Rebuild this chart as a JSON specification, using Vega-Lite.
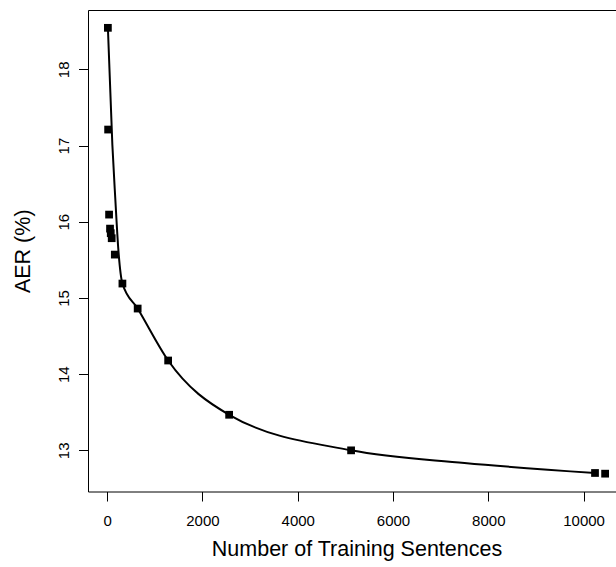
{
  "$schema": "https://vega.github.io/schema/vega-lite/v6.json",
  "width": 537,
  "height": 481.5,
  "autosize": "none",
  "padding": {"left": 88, "top": 10, "right": 0, "bottom": 76},
  "background": "#ffffff",
  "config": {
    "view": {"stroke": "#000000", "strokeWidth": 1},
    "font": "Liberation Sans",
    "axis": {
      "grid": false,
      "domain": false,
      "ticks": true,
      "tickColor": "#000000",
      "tickSize": 9.5,
      "tickWidth": 1,
      "labelColor": "#000000",
      "labelFontSize": 15,
      "labelFont": "Liberation Sans",
      "titleFont": "Liberation Sans",
      "titleColor": "#000000",
      "titleFontSize": 21.5,
      "titleFontWeight": "normal",
      "labelOverlap": false,
      "labelFlush": false,
      "format": "d"
    }
  },
  "datasets": {
    "points": [
      {"sentences": 15, "aer": 18.545},
      {"sentences": 20, "aer": 17.21},
      {"sentences": 40, "aer": 16.094},
      {"sentences": 60, "aer": 15.91},
      {"sentences": 75, "aer": 15.85},
      {"sentences": 95, "aer": 15.784},
      {"sentences": 160, "aer": 15.569},
      {"sentences": 320, "aer": 15.189},
      {"sentences": 640, "aer": 14.861},
      {"sentences": 1280, "aer": 14.179},
      {"sentences": 2560, "aer": 13.467},
      {"sentences": 5120, "aer": 13.0},
      {"sentences": 10240, "aer": 12.703},
      {"sentences": 10452, "aer": 12.694}
    ],
    "curve": [
      {"sentences": 15, "aer": 18.545},
      {"sentences": 109, "aer": 17.007},
      {"sentences": 172, "aer": 16.286},
      {"sentences": 235, "aer": 15.63},
      {"sentences": 320, "aer": 15.189},
      {"sentences": 640, "aer": 14.861},
      {"sentences": 1280, "aer": 14.179},
      {"sentences": 2560, "aer": 13.467},
      {"sentences": 5120, "aer": 13.0},
      {"sentences": 7500, "aer": 12.835},
      {"sentences": 10240, "aer": 12.703}
    ]
  },
  "layer": [
    {
      "data": {"name": "curve"},
      "mark": {"type": "line", "color": "#000000", "strokeWidth": 2, "interpolate": "monotone"},
      "encoding": {
        "x": {
          "field": "sentences", "type": "quantitative",
          "scale": {"domain": [-402.5, 10869.5], "zero": false, "nice": false},
          "axis": {
            "title": "Number of Training Sentences",
            "values": [0, 2000, 4000, 6000, 8000, 10000],
            "labelPadding": 12,
            "titlePadding": 10
          }
        },
        "y": {
          "field": "aer", "type": "quantitative",
          "scale": {"domain": [12.46, 18.779], "zero": false, "nice": false},
          "axis": {
            "title": "AER (%)",
            "values": [13, 14, 15, 16, 17, 18],
            "labelAngle": -90,
            "labelAlign": "center",
            "labelBaseline": "alphabetic",
            "labelPadding": 10,
            "titlePadding": 22
          }
        }
      }
    },
    {
      "data": {"name": "points"},
      "mark": {"type": "point", "shape": "square", "filled": true, "color": "#000000", "opacity": 1, "size": 60},
      "encoding": {
        "x": {"field": "sentences", "type": "quantitative"},
        "y": {"field": "aer", "type": "quantitative"}
      }
    }
  ]
}
